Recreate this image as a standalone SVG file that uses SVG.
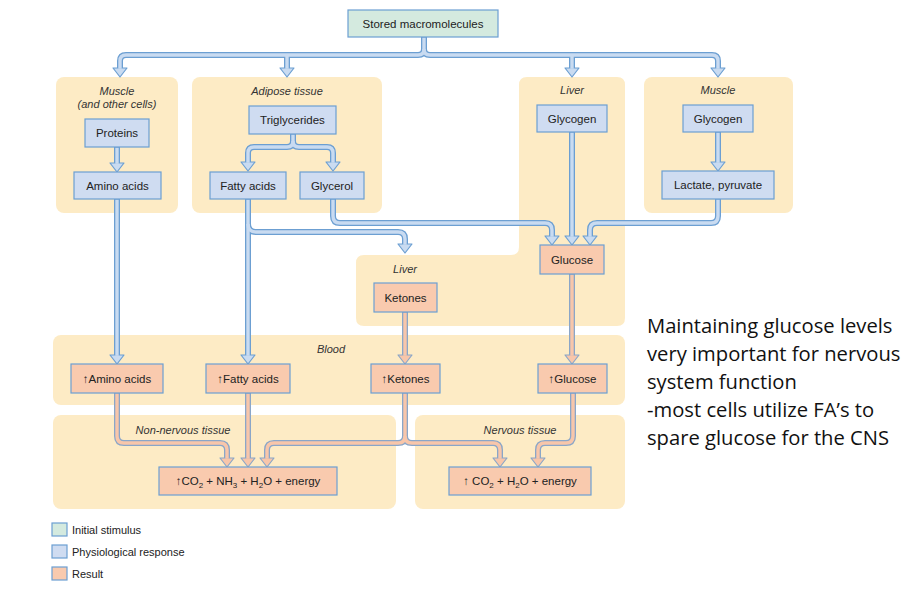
<svg xmlns="http://www.w3.org/2000/svg" xmlns:xlink="http://www.w3.org/1999/xlink" width="908" height="590" viewBox="0 0 908 590">
<style>
  .panel { fill: #fdebc5; }
  .plabel { font-family: "Liberation Sans", Arial, sans-serif; font-size: 11px; font-style: italic; fill: #333; text-anchor: middle; }
  .init { fill: #d4eadf; stroke: #6c9fd2; stroke-width: 1.2; }
  .phys { fill: #cfdcf1; stroke: #6c9fd2; stroke-width: 1.2; }
  .res { fill: #f9caae; stroke: #6c9fd2; stroke-width: 1.2; }
  .t { font-family: "Liberation Sans", Arial, sans-serif; font-size: 11.5px; fill: #222; text-anchor: middle; }
  .leg { font-family: "Liberation Sans", Arial, sans-serif; font-size: 11px; fill: #222; }
  .outB { fill: none; stroke: #6c9fd2; stroke-width: 6; stroke-linejoin: round; }
  .inB { fill: none; stroke: #c9dbf1; stroke-width: 3.4; stroke-linejoin: round; }
  .outR { fill: none; stroke: #8aa6c8; stroke-width: 6; stroke-linejoin: round; }
  .inR { fill: none; stroke: #f8c6aa; stroke-width: 3.4; stroke-linejoin: round; }
  .headB { fill: #c9dbf1; stroke: #6c9fd2; stroke-width: 1.2; stroke-linejoin: round; }
  .headR { fill: #f8c6aa; stroke: #8aa6c8; stroke-width: 1.2; stroke-linejoin: round; }
  .note { font-family: "Open Sans", "Noto Sans", sans-serif; font-size: 20.2px; fill: #111; }
</style>
<defs>
  <polygon id="hb" class="headB" points="-7,-9 7,-9 0,0"/>
  <polygon id="hr" class="headR" points="-7,-9 7,-9 0,0"/>
</defs>

<!-- panels -->
<g id="panels">
  <rect id="panel-muscle" class="panel" x="56" y="77" width="122" height="136" rx="8"/>
  <rect id="panel-adipose" class="panel" x="192" y="77" width="190" height="136" rx="8"/>
  <path id="panel-liver" class="panel" d="M527 77 H617 Q625 77 625 85 V318 Q625 326 617 326 H364 Q356 326 356 318 V263 Q356 255 364 255 H511 Q519 255 519 247 V85 Q519 77 527 77 Z"/>
  <rect id="panel-muscle2" class="panel" x="644" y="77" width="149" height="136" rx="8"/>
  <rect id="panel-blood" class="panel" x="53" y="335" width="572" height="70" rx="8"/>
  <rect id="panel-nonnervous" class="panel" x="53" y="415" width="343" height="94" rx="8"/>
  <rect id="panel-nervous" class="panel" x="415" y="415" width="210" height="94" rx="8"/>
  <text class="plabel" x="117" y="95">Muscle</text>
  <text class="plabel" x="117" y="108">(and other cells)</text>
  <text class="plabel" x="287" y="95">Adipose tissue</text>
  <text class="plabel" x="572" y="94">Liver</text>
  <text class="plabel" x="718" y="94">Muscle</text>
  <text class="plabel" x="405" y="273">Liver</text>
  <text class="plabel" x="331" y="353">Blood</text>
  <text class="plabel" x="183" y="434">Non-nervous tissue</text>
  <text class="plabel" x="520" y="434">Nervous tissue</text>
</g>

<!-- connectors -->
<g id="connectors">
  <g class="outB">
    <path d="M424 37 V49 Q424 55 418 55 H126 Q120 55 120 61 V68"/>
    <path d="M424 49 Q424 55 430 55 H712 Q718 55 718 61 V68"/>
    <path d="M287 55 V68"/>
    <path d="M572 55 V68"/>
    <path d="M117 147 V163"/>
    <path d="M718 132 V162"/>
    <path d="M293 134 V141 Q293 147 287 147 H254 Q248 147 248 153 V162"/>
    <path d="M293 141 Q293 147 299 147 H327 Q333 147 333 153 V162"/>
    <path d="M117 199 V355"/>
    <path d="M248 199 V355"/>
    <path d="M248 224 Q248 232 256 232 H398 Q405 232 405 239 V244"/>
    <path d="M333 199 V216 Q333 223 340 223 H545 Q552 223 552 230 V236"/>
    <path d="M572 132 V236"/>
    <path d="M718 199 V216 Q718 223 711 223 H597 Q590 223 590 230 V236"/>
  </g>
  <g class="outR">
    <path d="M405 312 V355"/>
    <path d="M572 274 V355"/>
    <path d="M117 393 V436 Q117 443 124 443 H220 Q227 443 227 450 V458"/>
    <path d="M248 393 V458"/>
    <path d="M405 393 V436 Q405 443 398 443 H274 Q267 443 267 450 V458"/>
    <path d="M405 436 Q405 443 412 443 H493 Q500 443 500 450 V458"/>
    <path d="M573 393 V436 Q573 443 566 443 H545 Q538 443 538 450 V458"/>
  </g>
  <use xlink:href="#hb" x="120" y="77"/>
  <use xlink:href="#hb" x="287" y="77"/>
  <use xlink:href="#hb" x="572" y="77"/>
  <use xlink:href="#hb" x="718" y="77"/>
  <use xlink:href="#hb" x="117" y="172"/>
  <use xlink:href="#hb" x="718" y="171"/>
  <use xlink:href="#hb" x="248" y="171"/>
  <use xlink:href="#hb" x="333" y="171"/>
  <use xlink:href="#hb" x="117" y="364"/>
  <use xlink:href="#hb" x="248" y="364"/>
  <use xlink:href="#hb" x="405" y="253"/>
  <use xlink:href="#hb" x="552" y="245"/>
  <use xlink:href="#hb" x="572" y="245"/>
  <use xlink:href="#hb" x="590" y="245"/>
  <use xlink:href="#hr" x="405" y="364"/>
  <use xlink:href="#hr" x="572" y="364"/>
  <use xlink:href="#hr" x="227" y="467"/>
  <use xlink:href="#hr" x="248" y="467"/>
  <use xlink:href="#hr" x="267" y="467"/>
  <use xlink:href="#hr" x="500" y="467"/>
  <use xlink:href="#hr" x="538" y="467"/>
  <g class="inB">
    <path d="M424 37.6 V49 Q424 55 418 55 H126 Q120 55 120 61 V68.8"/>
    <path d="M424 49 Q424 55 430 55 H712 Q718 55 718 61 V68.8"/>
    <path d="M287 55 V68.8"/>
    <path d="M572 55 V68.8"/>
    <path d="M117 147.6 V163.8"/>
    <path d="M718 132.6 V162.8"/>
    <path d="M293 134.6 V141 Q293 147 287 147 H254 Q248 147 248 153 V162.8"/>
    <path d="M293 141 Q293 147 299 147 H327 Q333 147 333 153 V162.8"/>
    <path d="M117 199.6 V355.8"/>
    <path d="M248 199.6 V355.8"/>
    <path d="M248 224 Q248 232 256 232 H398 Q405 232 405 239 V244.8"/>
    <path d="M333 199.6 V216 Q333 223 340 223 H545 Q552 223 552 230 V236.8"/>
    <path d="M572 132.6 V236.8"/>
    <path d="M718 199.6 V216 Q718 223 711 223 H597 Q590 223 590 230 V236.8"/>
  </g>
  <g class="inR">
    <path d="M405 312.6 V355.8"/>
    <path d="M572 274.6 V355.8"/>
    <path d="M117 393.6 V436 Q117 443 124 443 H220 Q227 443 227 450 V458.8"/>
    <path d="M248 393.6 V458.8"/>
    <path d="M405 393.6 V436 Q405 443 398 443 H274 Q267 443 267 450 V458.8"/>
    <path d="M405 436 Q405 443 412 443 H493 Q500 443 500 450 V458.8"/>
    <path d="M573 393.6 V436 Q573 443 566 443 H545 Q538 443 538 450 V458.8"/>
  </g>
</g>

<!-- nodes -->
<g id="stored"><rect class="init" x="348" y="10" width="150" height="27"/><text class="t" x="423" y="28">Stored macromolecules</text></g>
<g id="proteins"><rect class="phys" x="85" y="119" width="64" height="28"/><text class="t" x="117" y="137">Proteins</text></g>
<g id="amino"><rect class="phys" x="74" y="172" width="87" height="27"/><text class="t" x="117.5" y="190">Amino acids</text></g>
<g id="triglycerides"><rect class="phys" x="249" y="106" width="87" height="28"/><text class="t" x="292.5" y="124">Triglycerides</text></g>
<g id="fattyacids"><rect class="phys" x="210" y="172" width="76" height="27"/><text class="t" x="248" y="190">Fatty acids</text></g>
<g id="glycerol"><rect class="phys" x="300" y="172" width="64" height="27"/><text class="t" x="332" y="190">Glycerol</text></g>
<g id="glycogen-liver"><rect class="phys" x="537" y="105" width="70" height="27"/><text class="t" x="572" y="123">Glycogen</text></g>
<g id="glycogen-muscle"><rect class="phys" x="683" y="105" width="70" height="27"/><text class="t" x="718" y="123">Glycogen</text></g>
<g id="lactate"><rect class="phys" x="662" y="171" width="112" height="28"/><text class="t" x="718" y="189">Lactate, pyruvate</text></g>
<g id="glucose"><rect class="res" x="540" y="245" width="64" height="29"/><text class="t" x="572" y="264">Glucose</text></g>
<g id="ketones"><rect class="res" x="374" y="283" width="63" height="29"/><text class="t" x="405.5" y="302">Ketones</text></g>
<g id="blood-amino"><rect class="res" x="71" y="364" width="92" height="29"/><text class="t" x="117" y="383">↑Amino acids</text></g>
<g id="blood-fatty"><rect class="res" x="206" y="364" width="84" height="29"/><text class="t" x="248" y="383">↑Fatty acids</text></g>
<g id="blood-ketones"><rect class="res" x="371" y="364" width="69" height="29"/><text class="t" x="405.5" y="383">↑Ketones</text></g>
<g id="blood-glucose"><rect class="res" x="538" y="364" width="69" height="29"/><text class="t" x="572.5" y="383">↑Glucose</text></g>
<g id="result-nonnervous"><rect class="res" x="159" y="467" width="178" height="28"/><text class="t" x="248" y="485">↑CO<tspan dy="3" font-size="8">2</tspan><tspan dy="-3"> + NH</tspan><tspan dy="3" font-size="8">3</tspan><tspan dy="-3"> + H</tspan><tspan dy="3" font-size="8">2</tspan><tspan dy="-3">O + energy</tspan></text></g>
<g id="result-nervous"><rect class="res" x="449" y="467" width="142" height="28"/><text class="t" x="520" y="485">↑ CO<tspan dy="3" font-size="8">2</tspan><tspan dy="-3"> + H</tspan><tspan dy="3" font-size="8">2</tspan><tspan dy="-3">O + energy</tspan></text></g>

<!-- legend -->
<g id="legend">
  <rect class="init" x="52" y="523" width="15" height="13"/>
  <text class="leg" x="72" y="534">Initial stimulus</text>
  <rect class="phys" x="52" y="545" width="15" height="13"/>
  <text class="leg" x="72" y="556">Physiological response</text>
  <rect class="res" x="52" y="567" width="15" height="13"/>
  <text class="leg" x="72" y="578">Result</text>
</g>

<!-- note -->
<g id="note">
  <text class="note" x="647" y="333">Maintaining glucose levels</text>
  <text class="note" x="647" y="361">very important for nervous</text>
  <text class="note" x="647" y="389">system function</text>
  <text class="note" x="647" y="417">-most cells utilize FA’s to</text>
  <text class="note" x="647" y="445">spare glucose for the CNS</text>
</g>
</svg>
